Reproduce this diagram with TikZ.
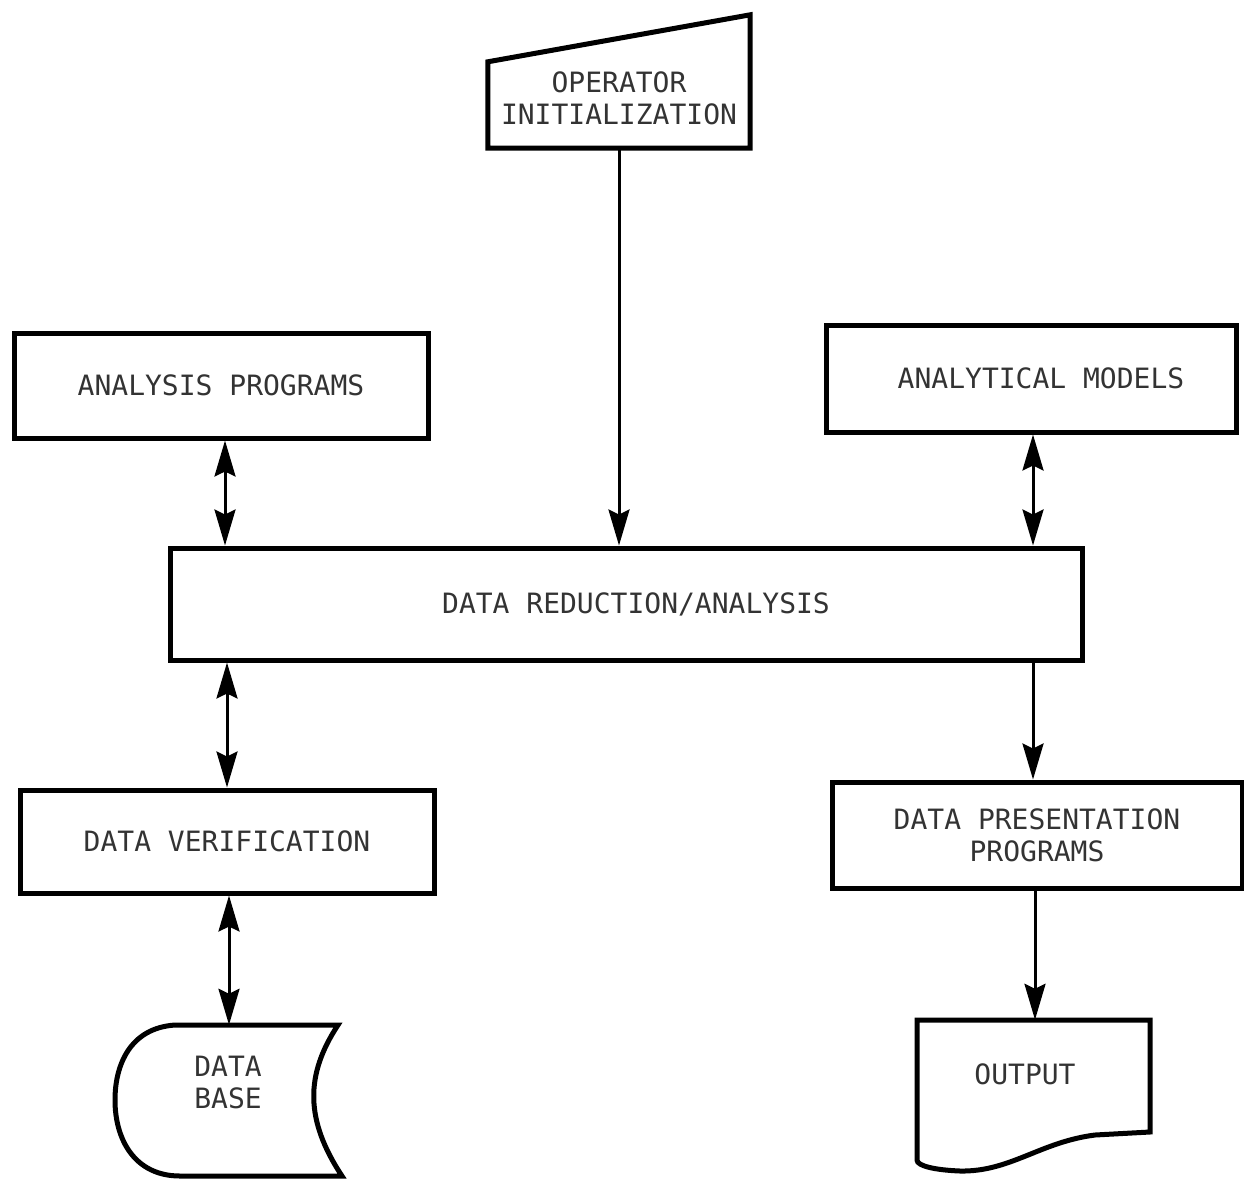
\documentclass[tikz,border=0pt]{standalone}
\usepackage{fontspec}
\setmonofont{DejaVu Sans Mono}
\usetikzlibrary{arrows.meta}
\begin{document}
\begin{tikzpicture}[x=1pt,y=-1pt,
  lbl/.style={font=\ttfamily\fontsize{28}{32}\selectfont, text=black!80, align=center},
  box/.style={draw, line width=5pt, rectangle, inner sep=0pt, lbl},
  frame/.style={rectangle, inner sep=0pt},
  outline/.style={draw, line width=5pt, line join=miter},
  conn/.style={draw, line width=3pt},
  tip/.tip={Stealth[length=36pt,width=21pt,inset=5pt]}
]
\useasboundingbox (0,0) rectangle (1244,1181);

% processing boxes
\node[box, minimum width=414pt, minimum height=105pt] (ap) at (221,385.5) {ANALYSIS PROGRAMS};
\node[box, minimum width=410pt, minimum height=107pt] (am) at (1031,378.5) {\hspace*{20pt}ANALYTICAL MODELS};
\node[box, minimum width=912pt, minimum height=112pt] (dr) at (626,604) {\hspace*{20pt}DATA REDUCTION/ANALYSIS};
\node[box, minimum width=414pt, minimum height=103pt] (dv) at (227,841.5) {DATA VERIFICATION};
\node[box, minimum width=410pt, minimum height=106pt] (dp) at (1037,835) {DATA PRESENTATION\\PROGRAMS};

% manual input (operator initialization)
\node[frame, minimum width=262pt, minimum height=86pt] (op) at (619,105) {};
\draw[outline] (op.south west) -- (op.north west) -- ([yshift=47pt]op.north east)
  -- (op.south east) -- cycle;
\node[lbl] (opt) at (619,98) {OPERATOR\\INITIALIZATION};

% stored data (data base)
\node[frame, minimum width=227pt, minimum height=151pt] (db) at (228.5,1100.5) {};
\draw[outline] (338,1025) -- (175,1025)
  .. controls (130,1028) and (115,1065) .. (115,1100)
  .. controls (115,1140) and (135,1176) .. (180,1176)
  -- (342,1176)
  .. controls (305,1120) and (305,1075) .. (338,1025) -- cycle;
\node[lbl] (dbt) at (228,1082) {DATA\\BASE};

% document (output)
\node[frame, minimum width=233pt, minimum height=146pt] (out) at (1033.5,1093) {};
\draw[outline] (917,1020) -- (1150,1020) -- (1150,1132) -- (1095,1135)
  .. controls (1040,1142) and (1010,1172) .. (960,1171)
  .. controls (935,1170) and (917,1166) .. (917,1160) -- cycle;
\node[lbl] (outt) at (1025,1074) {OUTPUT};

% connectors
\draw[conn, -tip] (op.south) -- (op.south |- dr.north);
\draw[conn, tip-tip] ([xshift=4pt]ap.south) -- ([xshift=4pt]ap.south |- dr.north);
\draw[conn, tip-tip] ([xshift=2pt]am.south) -- ([xshift=2pt]am.south |- dr.north);
\draw[conn, tip-tip] (dv.north |- dr.south) -- (dv.north);
\draw[conn, -tip] ([xshift=-4pt]dp.north |- dr.south) -- ([xshift=-4pt]dp.north);
\draw[conn, tip-tip] ([xshift=2pt]dv.south) -- ([xshift=2pt]dv.south |- db.north);
\draw[conn, -tip] ([xshift=-2pt]dp.south) -- ([xshift=-2pt]dp.south |- out.north);
\end{tikzpicture}
\end{document}
